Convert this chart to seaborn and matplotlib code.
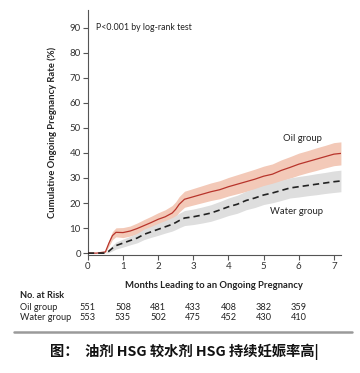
import numpy as np
import pandas as pd
import matplotlib
matplotlib.use('Agg')
import matplotlib.pyplot as plt
import matplotlib.transforms as mtransforms
import seaborn as sns

# months and cumulative ongoing pregnancy rate (%)
months = [0, 0.25, 0.5, 0.6, 0.7, 0.8, 1.0, 1.2, 1.4, 1.6, 1.8, 2.0, 2.2, 2.4, 2.5, 2.6,
          2.75, 3.0, 3.25, 3.5, 3.75, 4.0, 4.25, 4.5, 4.75, 5.0, 5.25, 5.5, 5.75, 6.0,
          6.25, 6.5, 6.75, 7.0, 7.2]
oil_rate = [0, 0, 0.5, 4, 7, 8.3, 8.2, 8.8, 9.8, 11, 12.2, 13.5, 14.5, 16, 17.5, 19.5,
            21.5, 22.5, 23.5, 24.5, 25.3, 26.5, 27.5, 28.5, 29.5, 30.7, 31.5, 33, 34.2, 35.5,
            36.5, 37.5, 38.5, 39.5, 39.8]
water_rate = [0, 0, 0, 0.8, 2, 3, 4, 5, 6, 7.5, 8.5, 9.5, 10.5, 11.5, 12.2, 13,
              14, 14.5, 15.2, 16, 17.2, 18.5, 19.5, 21, 22, 23.2, 24, 25, 26, 26.5,
              27, 27.5, 28, 28.5, 28.8]
# half width of the shaded confidence bands
oil_ci = [0, 0, 0.3, 1.2, 1.6, 1.8, 2, 2, 2.2, 2.4, 2.5, 2.6, 2.8, 3, 3, 3.1,
          3.2, 3.3, 3.4, 3.5, 3.6, 3.7, 3.8, 3.9, 4, 4, 4.1, 4.2, 4.3, 4.4,
          4.4, 4.5, 4.5, 4.6, 4.6]
water_ci = [0, 0, 0, 0.6, 1.1, 1.4, 1.6, 1.7, 1.9, 2.1, 2.2, 2.4, 2.5, 2.7, 2.8, 2.9,
            3, 3.1, 3.2, 3.3, 3.4, 3.5, 3.6, 3.7, 3.8, 3.8, 3.9, 4, 4, 4.1,
            4.1, 4.2, 4.2, 4.3, 4.3]

risk_months = [0, 1, 2, 3, 4, 5, 6]
oil_at_risk = [551, 508, 481, 433, 408, 382, 359]
water_at_risk = [553, 535, 502, 475, 452, 430, 410]

caption = '图：  油剂 HSG 较水剂 HSG 持续妊娠率高|'

sns.set_style('ticks')
plt.rcParams['font.family'] = ['Lato', 'DejaVu Sans']

df = pd.DataFrame({
    'month': months * 2,
    'rate': oil_rate + water_rate,
    'group': ['Oil'] * len(months) + ['Water'] * len(months),
})

fig = plt.figure(figsize=(3.6, 3.73), dpi=100)
ax = fig.add_axes([0.244, 0.316, 0.703, 0.657])

m = np.array(months)
ax.fill_between(m, np.array(oil_rate) - np.array(oil_ci), np.array(oil_rate) + np.array(oil_ci),
                color='#f3c9b8', lw=0, zorder=1)
ax.fill_between(m, np.array(water_rate) - np.array(water_ci), np.array(water_rate) + np.array(water_ci),
                color='#dedede', lw=0, zorder=1)

sns.lineplot(data=df[df.group == 'Oil'], x='month', y='rate', color='#b8342b', lw=0.9,
             ax=ax, zorder=3)
sns.lineplot(data=df[df.group == 'Water'], x='month', y='rate', color='#222222', lw=1.2,
             ax=ax, zorder=3)
ax.lines[-1].set_linestyle((0, (3.8, 2.4)))

ax.set_xlim(0, 7.2)
ax.set_ylim(-0.8, 97)
ax.set_xticks(range(0, 8))
ax.set_yticks(range(0, 100, 10))
ax.tick_params(labelsize=7, length=3.5, width=0.8, color='#555555', labelcolor='#333333', pad=1.5)
for s in ['left', 'bottom']:
    ax.spines[s].set_color('#555555')
    ax.spines[s].set_linewidth(0.8)
sns.despine(ax=ax)

ax.set_xlabel('Months Leading to an Ongoing Pregnancy', fontsize=6.8, fontweight='bold',
              color='#222222', labelpad=7)
ax.set_ylabel('Cumulative Ongoing Pregnancy Rate (%)', fontsize=6.8, fontweight='bold',
              color='#222222', labelpad=9)

ax.text(0.23, 90, 'P<0.001 by log-rank test', fontsize=6.3, color='#222222', va='center')
ax.text(6.1, 45.6, 'Oil group', fontsize=6.8, color='#222222', ha='center', va='center')
ax.text(5.95, 16.8, 'Water group', fontsize=6.8, color='#222222', ha='center', va='center')

# number at risk table, aligned with the month ticks
trans = mtransforms.blended_transform_factory(ax.transData, fig.transFigure)
fig.text(20 / 360, 1 - 296 / 373, 'No. at Risk', fontsize=6.6, fontweight='bold', color='#222222', va='center')
fig.text(20 / 360, 1 - 307 / 373, 'Oil group', fontsize=6.6, color='#222222', va='center')
fig.text(20 / 360, 1 - 317 / 373, 'Water group', fontsize=6.6, color='#222222', va='center')
for mo, a, b in zip(risk_months, oil_at_risk, water_at_risk):
    ax.text(mo, 1 - 307 / 373, str(a), transform=trans, fontsize=6.6, color='#222222',
            ha='center', va='center')
    ax.text(mo, 1 - 317 / 373, str(b), transform=trans, fontsize=6.6, color='#222222',
            ha='center', va='center')

fig.add_artist(plt.Line2D([14 / 360, 352 / 360], [1 - 332 / 373, 1 - 332 / 373],
                          transform=fig.transFigure, color='#9a9a9a', lw=1.8))

fig.text(184 / 360, 1 - 352 / 373, caption, fontsize=10.3, fontweight='bold',
         family=['Noto Sans CJK SC', 'DejaVu Sans'], ha='center', va='center', color='#111111')

fig.savefig('out.png', dpi=100, facecolor='white')
